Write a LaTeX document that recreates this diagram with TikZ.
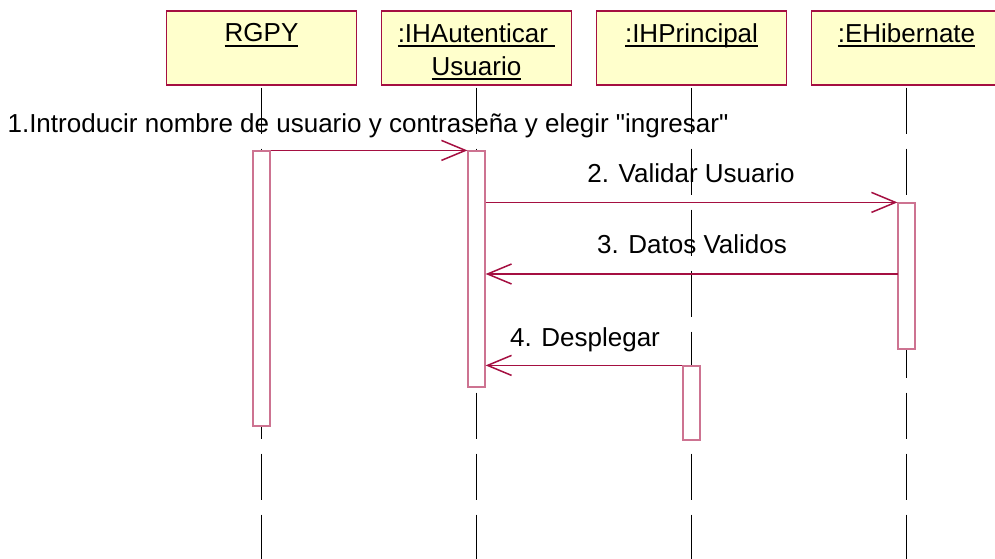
\documentclass[tikz,border=0pt]{standalone}
\usepackage{fontspec}
\setmainfont{Liberation Sans}[Ligatures=TeXOff]
\usetikzlibrary{arrows.meta,positioning}
\definecolor{umlred}{RGB}{165,15,65}
\definecolor{actpink}{RGB}{205,115,145}
\definecolor{objfill}{RGB}{255,255,204}
\newcommand{\objul}[1]{\setbox0\hbox{#1}\copy0\llap{\rule[-5pt]{\wd0}{2pt}}}

\begin{document}
\begin{tikzpicture}
        [%%%%%%%%%%%%%%%%%%%%%%%%%%%%%%
        x=1pt,y=-1pt,
        obj/.style={rectangle,draw=umlred,fill=objfill,line width=1.2pt,
          minimum width=190pt,minimum height=74pt,inner sep=0pt},
        objname/.style={anchor=north,inner sep=0pt,align=center,
          font=\fontsize{26}{33}\selectfont},
        act/.style={rectangle,draw=actpink,fill=white,line width=1.2pt,
          minimum width=17pt,inner sep=0pt},
        lifeline/.style={black,line width=1pt,dash pattern=on 46pt off 15pt},
        msg/.style={umlred,line width=1.5pt,
          -{Straight Barb[length=24pt,width=20pt]}},
        msgtxt/.style={anchor=base,inner sep=0pt,font=\fontsize{26}{30}\selectfont},
        ]%%%%%%%%%%%%%%%%%%%%%%%%%%%%%%
        \clip (0,0) rectangle (995,559);
        % Objects
        \node[obj] (rgpy) at (261.5,48) {};
        \node[obj] (auth) at (476.5,48) {};
        \node[obj] (princ) at (691.5,48) {};
        \node[obj] (hib) at (906.5,48) {};
        \node[objname] (rgpyname) at ([yshift=-13pt]rgpy.north) {\objul{RGPY}};
        \node[objname] (authname) at ([yshift=-13pt]auth.north) {\objul{:IHAutenticar\ }\\\objul{Usuario}};
        \node[objname] (princname) at ([yshift=-13pt]princ.north) {\objul{:IHPrincipal}};
        \node[objname] (hibname) at ([yshift=-13pt]hib.north) {\objul{:EHibernate}};
        % Lifelines
        \coordinate (bottom) at (0,559);
        \foreach \p in {rgpy,auth,princ,hib}{
          \draw[lifeline, shorten <=2pt] (\p.south) -- (\p.south |- bottom);
        }
        % Activations
        \node[act, minimum height=275pt] (rgpyact) at (261.5,288.5) {};
        \node[act, minimum height=236pt] (authact) at (476.5,269) {};
        \node[act, minimum height=146pt] (hibact) at (906.5,276) {};
        \node[act, minimum height=74pt] (princact) at (691.5,403) {};
        % Messages
        \coordinate (datos) at (898,274);
        \draw[msg] (rgpyact.north east) -- (authact.north west);
        \draw[msg] (authact.east |- hibact.north) -- (hibact.north west);
        \draw[msg] (datos) -- (authact.east |- datos);
        \draw[msg] (princact.north west) -- (authact.east |- princact.north);
        % Text
        \node[msgtxt] (lbl1) at (368,132) {1.Introducir nombre de usuario y contraseña y elegir "ingresar"};
        \node[msgtxt] (lbl2) at (691,182) {2. Validar Usuario};
        \node[msgtxt] (lbl3) at (692,253) {3. Datos Validos};
        \node[msgtxt] (lbl4) at (585,346) {4. Desplegar};
      \end{tikzpicture}
\end{document}
